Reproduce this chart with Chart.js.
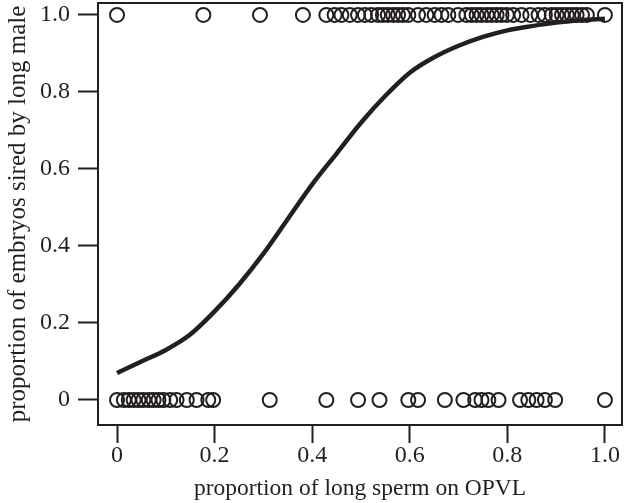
<!DOCTYPE html>
<html>
<head>
<meta charset="utf-8">
<script src="https://cdn.jsdelivr.net/npm/chart.js@4/dist/chart.umd.min.js"></script>
<style>
  html, body { margin: 0; padding: 0; background: #ffffff; }
  #wrap { width: 628px; height: 503px; }
</style>
</head>
<body>
<div id="wrap"><canvas id="c" width="628" height="503"></canvas></div>
<script>
// x positions of embryos with proportion 1 (sired by long male)
const topX = [0, 0.177, 0.293, 0.381, 0.429, 0.446, 0.46, 0.477, 0.494, 0.508, 0.521, 0.535, 0.545, 0.555, 0.566, 0.576, 0.586, 0.597, 0.617, 0.634, 0.651, 0.665, 0.679, 0.699, 0.716, 0.727, 0.737, 0.747, 0.758, 0.768, 0.778, 0.788, 0.799, 0.812, 0.829, 0.847, 0.864, 0.877, 0.891, 0.901, 0.912, 0.922, 0.932, 0.942, 0.953, 0.963, 1.0];
// x positions of embryos with proportion 0
const bottomX = [0, 0.014, 0.024, 0.034, 0.044, 0.054, 0.065, 0.075, 0.085, 0.095, 0.109, 0.122, 0.143, 0.163, 0.187, 0.197, 0.313, 0.429, 0.494, 0.538, 0.597, 0.617, 0.672, 0.71, 0.734, 0.747, 0.761, 0.782, 0.826, 0.843, 0.86, 0.877, 0.898, 1.0];
// fitted curve
const curveX = [0, 0.05, 0.1, 0.15, 0.2, 0.25, 0.3, 0.35, 0.4, 0.45, 0.5, 0.55, 0.6, 0.65, 0.7, 0.75, 0.8, 0.85, 0.9, 0.95, 1.0];
const curveY = [0.07, 0.10, 0.13, 0.17, 0.23, 0.30, 0.38, 0.47, 0.56, 0.64, 0.72, 0.79, 0.85, 0.89, 0.92, 0.943, 0.96, 0.971, 0.98, 0.986, 0.99];
// tick values and labels
const xTickValues = [0, 0.2, 0.4, 0.6, 0.8, 1.0];
const xTickLabels = ["0", "0.2", "0.4", "0.6", "0.8", "1.0"];
const yTickValues = [0, 0.2, 0.4, 0.6, 0.8, 1.0];
const yTickLabels = ["0", "0.2", "0.4", "0.6", "0.8", "1.0"];
const xTitle = "proportion of long sperm on OPVL";
const yTitle = "proportion of embryos sired by long male";

const INK = '#231f20';
const FONT = "'Liberation Serif', 'DejaVu Serif', serif";

const pointsData = topX.map(x => ({x: x, y: 1}))
  .concat(bottomX.map(x => ({x: x, y: 0})));
const curveData = curveX.map((x, i) => ({x: x, y: curveY[i]}));

const boxPlugin = {
  id: 'box',
  afterDatasetsDraw(chart) {
    const a = chart.chartArea, ctx = chart.ctx;
    ctx.save();
    ctx.strokeStyle = INK;
    ctx.lineWidth = 2;
    ctx.strokeRect(a.left, a.top, a.right - a.left, a.bottom - a.top);
    ctx.restore();
  }
};

function noPad(s) { s.paddingTop = 0; s.paddingBottom = 0; s.paddingLeft = 0; s.paddingRight = 0; }

new Chart(document.getElementById('c'), {
  type: 'scatter',
  data: {
    datasets: [
      {
        label: 'fit',
        data: curveData,
        showLine: true,
        borderColor: INK,
        borderWidth: 4.5,
        pointRadius: 0,
        cubicInterpolationMode: 'monotone',
        fill: false,
        clip: false,
        order: 1
      },
      {
        label: 'embryos',
        data: pointsData,
        pointStyle: 'circle',
        pointRadius: 7,
        pointBorderWidth: 2,
        pointBackgroundColor: 'rgba(0,0,0,0)',
        pointBorderColor: INK,
        showLine: false,
        clip: false,
        order: 2
      }
    ]
  },
  options: {
    responsive: false,
    animation: false,
    devicePixelRatio: 1,
    layout: { autoPadding: false, padding: { top: 3, right: 6, left: 0, bottom: 0 } },
    plugins: { legend: { display: false }, tooltip: { enabled: false } },
    scales: {
      x: {
        type: 'linear',
        min: -0.039,
        max: 1.035,
        afterBuildTicks(s) { s.ticks = xTickValues.map(v => ({value: v})); },
        afterFit(s) { s.height = 78; noPad(s); },
        grid: { display: true, drawOnChartArea: false, drawTicks: true, tickLength: 18, tickWidth: 2, tickColor: INK },
        border: { display: false },
        ticks: {
          autoSkip: false, maxRotation: 0, padding: -2, color: INK,
          font: { family: FONT, size: 24 },
          callback: (v, i) => xTickLabels[i]
        },
        title: {
          display: true, text: xTitle, color: INK,
          font: { family: FONT, size: 23.5 },
          padding: { top: 0, bottom: 0 }
        }
      },
      y: {
        type: 'linear',
        min: -0.065,
        max: 1.031,
        afterBuildTicks(s) { s.ticks = yTickValues.map(v => ({value: v})); },
        afterFit(s) { s.width = 98; noPad(s); },
        grid: { display: true, drawOnChartArea: false, drawTicks: true, tickLength: 20, tickWidth: 2, tickColor: INK },
        border: { display: false },
        ticks: {
          autoSkip: false, padding: 8, color: INK,
          font: { family: FONT, size: 24 },
          callback: (v, i) => yTickLabels[i]
        },
        title: {
          display: true, text: yTitle, color: INK,
          font: { family: FONT, size: 25 },
          padding: { top: 3, bottom: 0 }
        }
      }
    }
  },
  plugins: [boxPlugin]
});
</script>
</body>
</html>
